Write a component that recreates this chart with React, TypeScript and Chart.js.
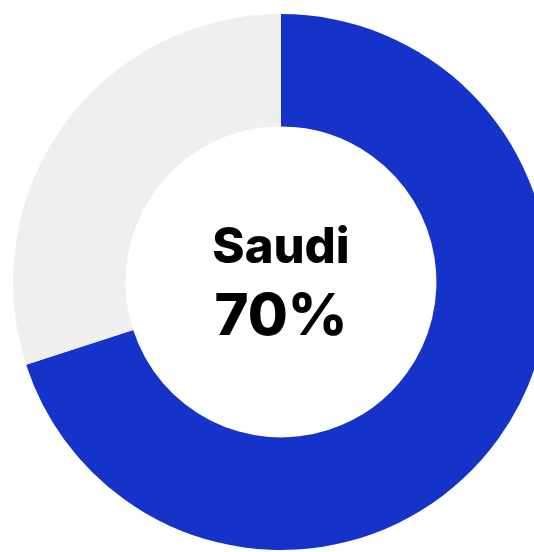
import React, { useEffect, useRef } from "react";
import { Chart, registerables } from "chart.js";

Chart.register(...registerables);

const labels = ["Saudi", "Other"];
const values = [70, 30];
const colors = ["#1533C8", "#EFEFEF"];
const centerTitle = "Saudi";
const centerValue = "70%";

export default function App() {
  const ref = useRef<HTMLCanvasElement | null>(null);
  useEffect(() => {
    if (!ref.current) return;
    const centerText = {
      id: "centerText",
      afterDraw(chart: any) {
        const ctx = chart.ctx;
        const meta = chart.getDatasetMeta(0);
        const arc = meta.data[0];
        const cx = arc.x;
        const cy = arc.y;
        ctx.save();
        ctx.fillStyle = "#000";
        ctx.textAlign = "center";
        ctx.textBaseline = "alphabetic";
        ctx.font = "800 49px Inter";
        ctx.fillText(centerTitle, cx, cy - 19);
        ctx.font = "800 58px Inter";
        ctx.fillText(centerValue, cx, cy + 53);
        ctx.restore();
      },
    };
    const chart = new Chart(ref.current, {
      type: "doughnut",
      data: {
        labels,
        datasets: [
          {
            data: values,
            backgroundColor: colors,
            borderWidth: 0,
          },
        ],
      },
      options: {
        responsive: false,
        animation: false,
        cutout: "58%",
        layout: { padding: 0 },
        plugins: { legend: { display: false }, tooltip: { enabled: false } },
      },
      plugins: [centerText],
    });
    return () => chart.destroy();
  }, []);
  return (
    <div style={{ position: "fixed", left: 0, top: 0, width: 534, height: 552, overflow: "hidden", background: "#fff" }}>
      <canvas ref={ref} width={536} height={536} style={{ position: "absolute", left: 13, top: 14, width: 536, height: 536 }} />
    </div>
  );
}
